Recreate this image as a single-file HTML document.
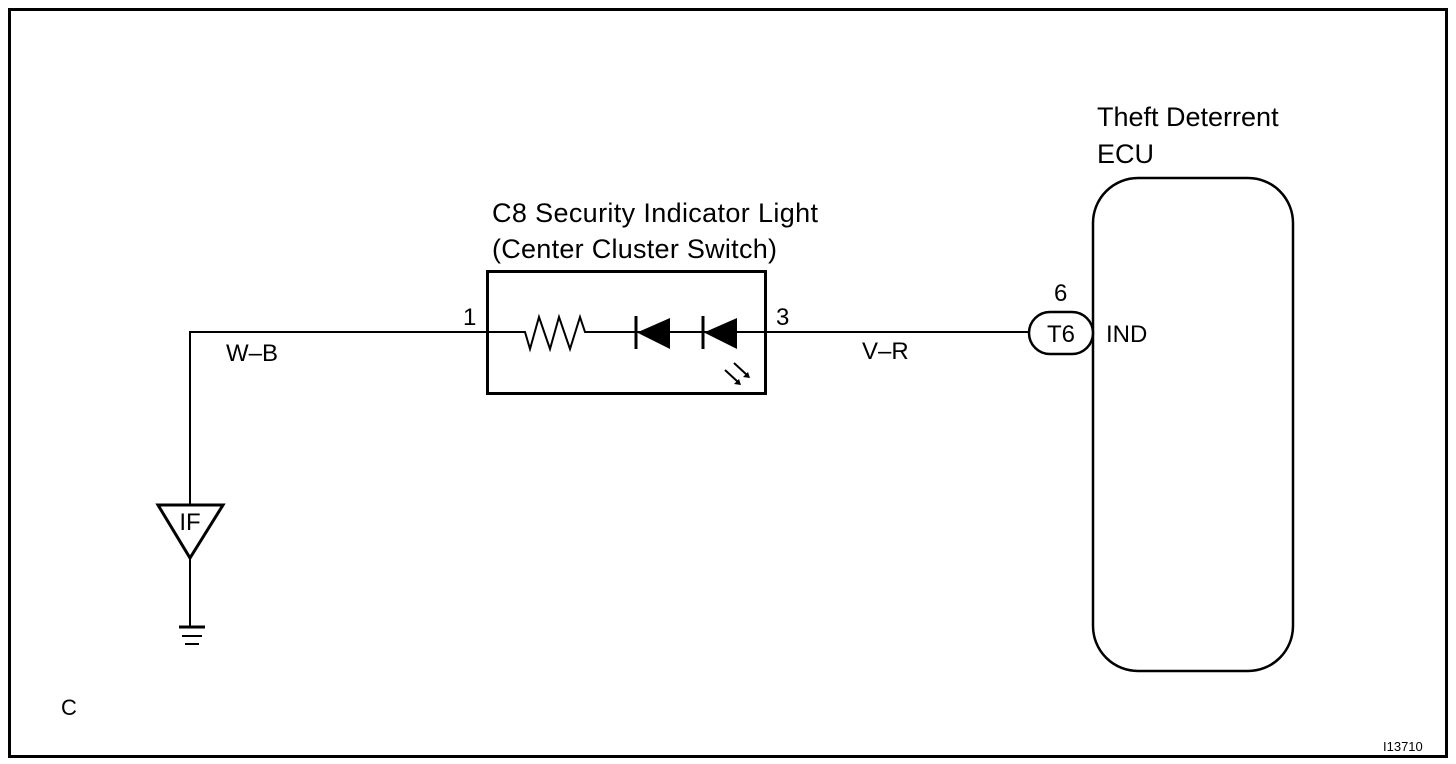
<!DOCTYPE html>
<html><head><meta charset="utf-8"><style>
html,body{margin:0;padding:0;background:#fff;}
svg{display:block;}
text{font-family:"Liberation Sans",Arial,sans-serif;fill:#000;}
</style></head><body>
<svg width="1456" height="764" viewBox="0 0 1456 764" xmlns="http://www.w3.org/2000/svg">
<rect x="9.5" y="9.5" width="1437" height="747" fill="none" stroke="#000" stroke-width="3"/>
<g stroke="#000" stroke-width="2" fill="none">
<path d="M190 505 V332 H525 L530 349 L539 317 L550 349 L559 317 L570 349 L580 317 L585 332 H1029"/>
<rect x="487.5" y="271.5" width="278" height="122" stroke-width="3"/>
<path d="M190 558 V628"/>
<rect x="1093" y="178" width="200" height="493" rx="45" ry="45" stroke-width="2.5"/>
<rect x="1029" y="312" width="64" height="42" rx="21" ry="21" fill="#fff" stroke-width="2.5"/>
<path d="M636 316 V349 M703 316 V349" stroke-width="3"/>
<path d="M725 370 L738 382 M734 363 L747 375"/>
</g>
<path d="M158 505 H223 L190 558 Z" fill="#fff" stroke="#000" stroke-width="3"/>
<path d="M179 627 H205" stroke="#000" stroke-width="3"/>
<path d="M182 636 H202 M185 644 H199" stroke="#000" stroke-width="2"/>
<path d="M637 332.5 L670 318 V349 Z M704 332.5 L737 318 V349 Z" fill="#000"/>
<path d="M741 385 l-7 -1 l5 -5 Z M750 378 l-7 -1 l5 -5 Z" fill="#000"/>
<text x="1097" y="126" font-size="27">Theft Deterrent</text>
<text x="1097" y="163" font-size="27">ECU</text>
<text x="492" y="222" font-size="27" textLength="326">C8 Security Indicator Light</text>
<text x="492" y="258" font-size="27" textLength="285">(Center Cluster Switch)</text>
<text x="463" y="325" font-size="24">1</text>
<text x="776" y="325" font-size="24">3</text>
<text x="1054" y="301" font-size="24">6</text>
<text x="1061" y="342" font-size="24" text-anchor="middle">T6</text>
<text x="1106" y="342" font-size="24">IND</text>
<text x="226" y="361" font-size="24">W–B</text>
<text x="862" y="359" font-size="24">V–R</text>
<text x="190" y="530" font-size="24" text-anchor="middle">IF</text>
<text x="61" y="715" font-size="22">C</text>
<text x="1383" y="751" font-size="13">I13710</text>
</svg>
</body></html>
